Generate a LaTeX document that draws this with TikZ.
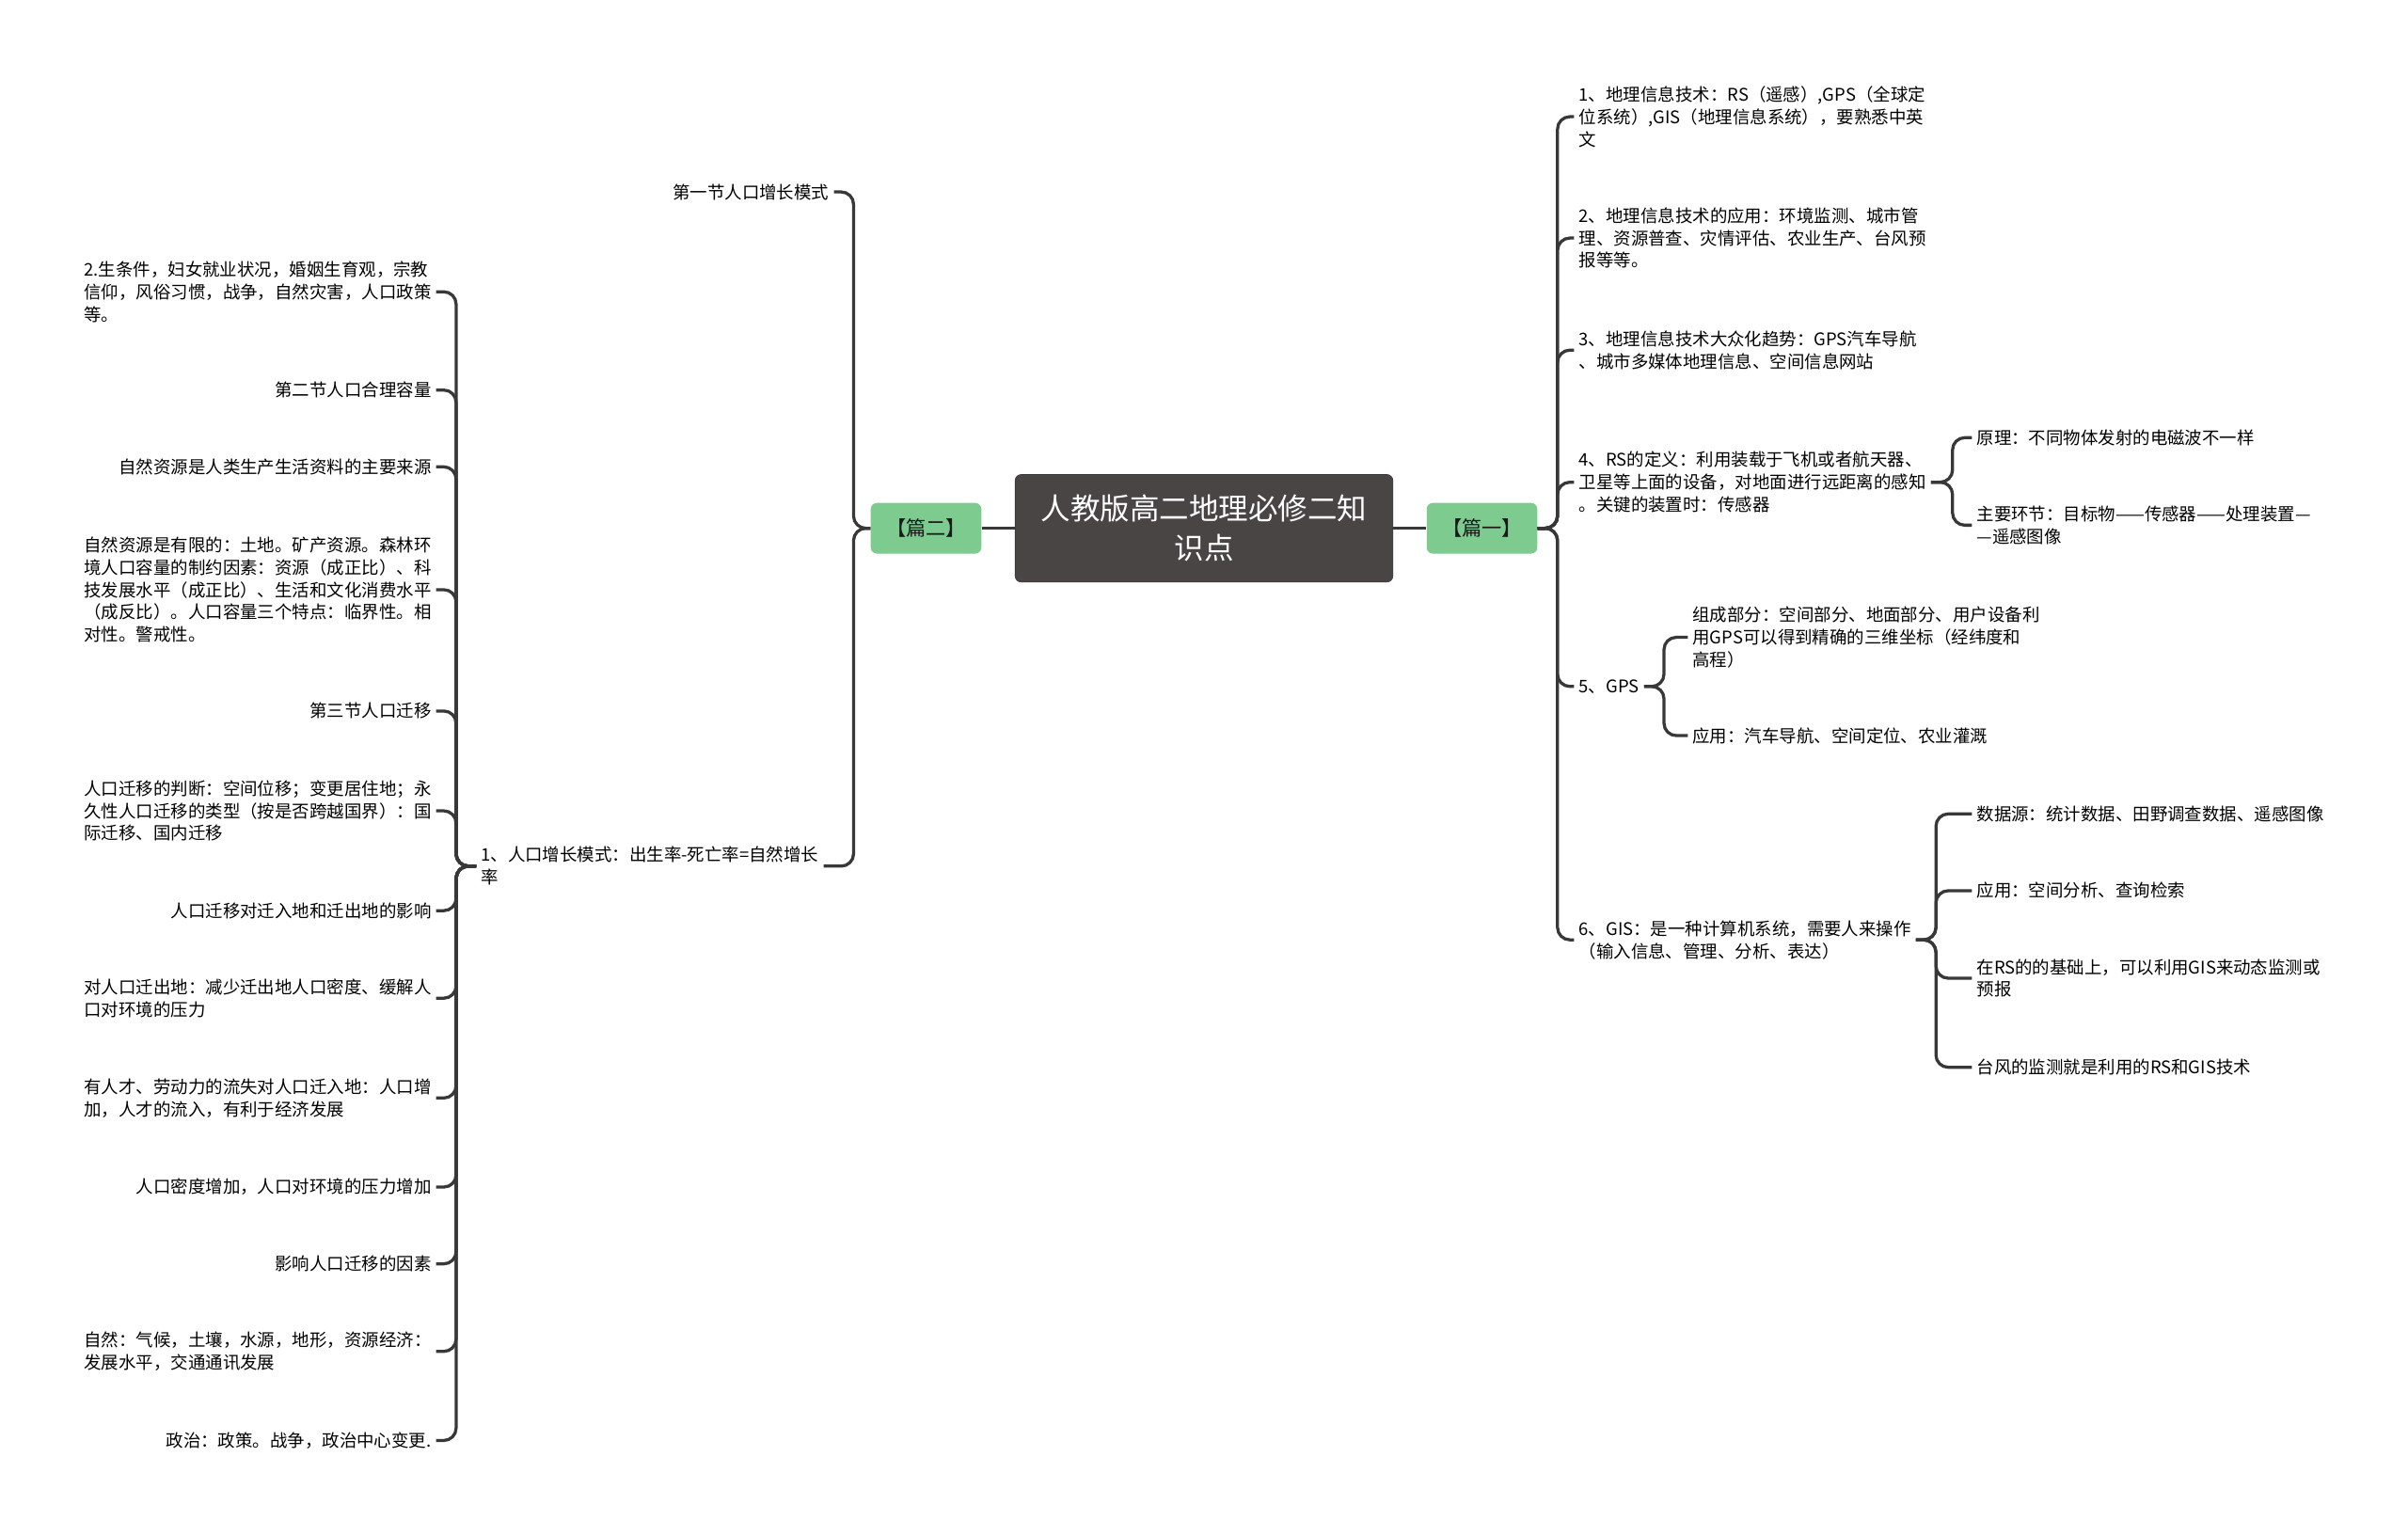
\documentclass[tikz,border=0pt]{standalone}
\usepackage{fontspec}
\setmainfont{Noto Sans CJK SC}
\usetikzlibrary{positioning}

\definecolor{cRoot}{HTML}{4A4545}
\definecolor{cCat}{HTML}{7DCB8F}
\definecolor{cLine}{HTML}{383838}

\begin{document}
\begin{tikzpicture}[
    x=1pt, y=-1pt,
    rootnode/.style={rectangle, rounded corners=4pt, fill=cRoot, draw=cRoot!80!black, text=white, align=center, minimum width=246pt, minimum height=70pt, font=\fontsize{19.3}{26}\selectfont},
    catnode/.style={rectangle, rounded corners=4pt, fill=cCat, text=black!90, minimum width=72pt, minimum height=33pt, font=\fontsize{13}{15}\selectfont},
    leafnode/.style={inner xsep=3pt, inner ysep=2pt, text=black, align=left, font=\fontsize{11.3}{14.6}\selectfont},
    leftleaf/.style={leafnode, anchor=east},
    rightleaf/.style={leafnode, anchor=west},
    link/.style={draw=cLine, line width=2pt, rounded corners=8pt},
]

\fill[white] (0,0) rectangle (1568,1000);
\useasboundingbox (0,0) rectangle (1568,1000);

% centre
\node[rootnode] (root) at (784,344) {人教版高二地理必修二知\\识点};
\node[catnode] (p2) at (603,344) {【篇二】};
\node[catnode] (p1) at (965,344) {【篇一】};

% 篇二
\node[leftleaf] (s1) at (543,125) {第一节人口增长模式};
\node[rightleaf] (s2) at (310,564) {1、人口增长模式：出生率-死亡率=自然增长\\率};

\node[leftleaf] (l1) at (284,190) {2.生条件，妇女就业状况，婚姻生育观，宗教\\信仰，风俗习惯，战争，自然灾害，人口政策\\等。};
\node[leftleaf] (l2) at (284,254) {第二节人口合理容量};
\node[leftleaf] (l3) at (284,304) {自然资源是人类生产生活资料的主要来源};
\node[leftleaf] (l4) at (284,384) {自然资源是有限的：土地。矿产资源。森林环\\境人口容量的制约因素：资源（成正比）、科\\技发展水平（成正比）、生活和文化消费水平\\（成反比）。人口容量三个特点：临界性。相\\对性。警戒性。};
\node[leftleaf] (l5) at (284,463) {第三节人口迁移};
\node[leftleaf] (l6) at (284,528) {人口迁移的判断：空间位移；变更居住地；永\\久性人口迁移的类型（按是否跨越国界）：国\\际迁移、国内迁移};
\node[leftleaf] (l7) at (284,593) {人口迁移对迁入地和迁出地的影响};
\node[leftleaf] (l8) at (284,650) {对人口迁出地：减少迁出地人口密度、缓解人\\口对环境的压力};
\node[leftleaf] (l9) at (284,715) {有人才、劳动力的流失对人口迁入地：人口增\\加，人才的流入，有利于经济发展};
\node[leftleaf] (l10) at (284,773) {人口密度增加，人口对环境的压力增加};
\node[leftleaf] (l11) at (284,823) {影响人口迁移的因素};
\node[leftleaf] (l12) at (284,880) {自然：气候，土壤，水源，地形，资源经济：\\发展水平，交通通讯发展};
\node[leftleaf] (l13) at (284,938) {政治：政策。战争，政治中心变更.};

% 篇一
\node[rightleaf] (r1) at (1025,76) {1、地理信息技术：RS（遥感）,GPS（全球定\\位系统）,GIS（地理信息系统），要熟悉中英\\文};
\node[rightleaf] (r2) at (1025,155) {2、地理信息技术的应用：环境监测、城市管\\理、资源普查、灾情评估、农业生产、台风预\\报等等。};
\node[rightleaf] (r3) at (1025,228) {3、地理信息技术大众化趋势：GPS汽车导航\\、城市多媒体地理信息、空间信息网站};
\node[rightleaf] (r4) at (1025,314) {4、RS的定义：利用装载于飞机或者航天器、\\卫星等上面的设备，对地面进行远距离的感知\\。关键的装置时：传感器};
\node[rightleaf] (r5) at (1025,447) {5、GPS};
\node[rightleaf] (r6) at (1025,612) {6、GIS：是一种计算机系统，需要人来操作\\（输入信息、管理、分析、表达）};

\node[rightleaf] (r41) at (1284,285) {原理：不同物体发射的电磁波不一样};
\node[rightleaf] (r42) at (1284,342) {主要环节：目标物——传感器——处理装置—\\—遥感图像};

\node[rightleaf] (r51) at (1099,415) {组成部分：空间部分、地面部分、用户设备利\\用GPS可以得到精确的三维坐标（经纬度和\\高程）};
\node[rightleaf] (r52) at (1099,479) {应用：汽车导航、空间定位、农业灌溉};

\node[rightleaf] (r61) at (1284,530) {数据源：统计数据、田野调查数据、遥感图像};
\node[rightleaf] (r62) at (1284,580) {应用：空间分析、查询检索};
\node[rightleaf] (r63) at (1284,637) {在RS的的基础上，可以利用GIS来动态监测或\\预报};
\node[rightleaf] (r64) at (1284,695) {台风的监测就是利用的RS和GIS技术};

% connectors
\draw[link] (root.west) -- (p2.east);
\draw[link] (root.east) -- (p1.west);

\foreach \n in {s1, s2}
    \draw[link] (p2.west) -- ++(-11,0) |- (\n.east);
\foreach \i in {1,...,13}
    \draw[link] (s2.west) -- ++(-13,0) |- (l\i.east);

\foreach \i in {1,...,6}
    \draw[link] (p1.east) -- ++(13,0) |- (r\i.west);
\foreach \n in {r41, r42}
    \draw[link] (r4.east) -- ++(14,0) |- (\n.west);
\foreach \n in {r51, r52}
    \draw[link] (r5.east) -- ++(13,0) |- (\n.west);
\foreach \n in {r61, r62, r63, r64}
    \draw[link] (r6.east) -- ++(13,0) |- (\n.west);

\end{tikzpicture}
\end{document}
